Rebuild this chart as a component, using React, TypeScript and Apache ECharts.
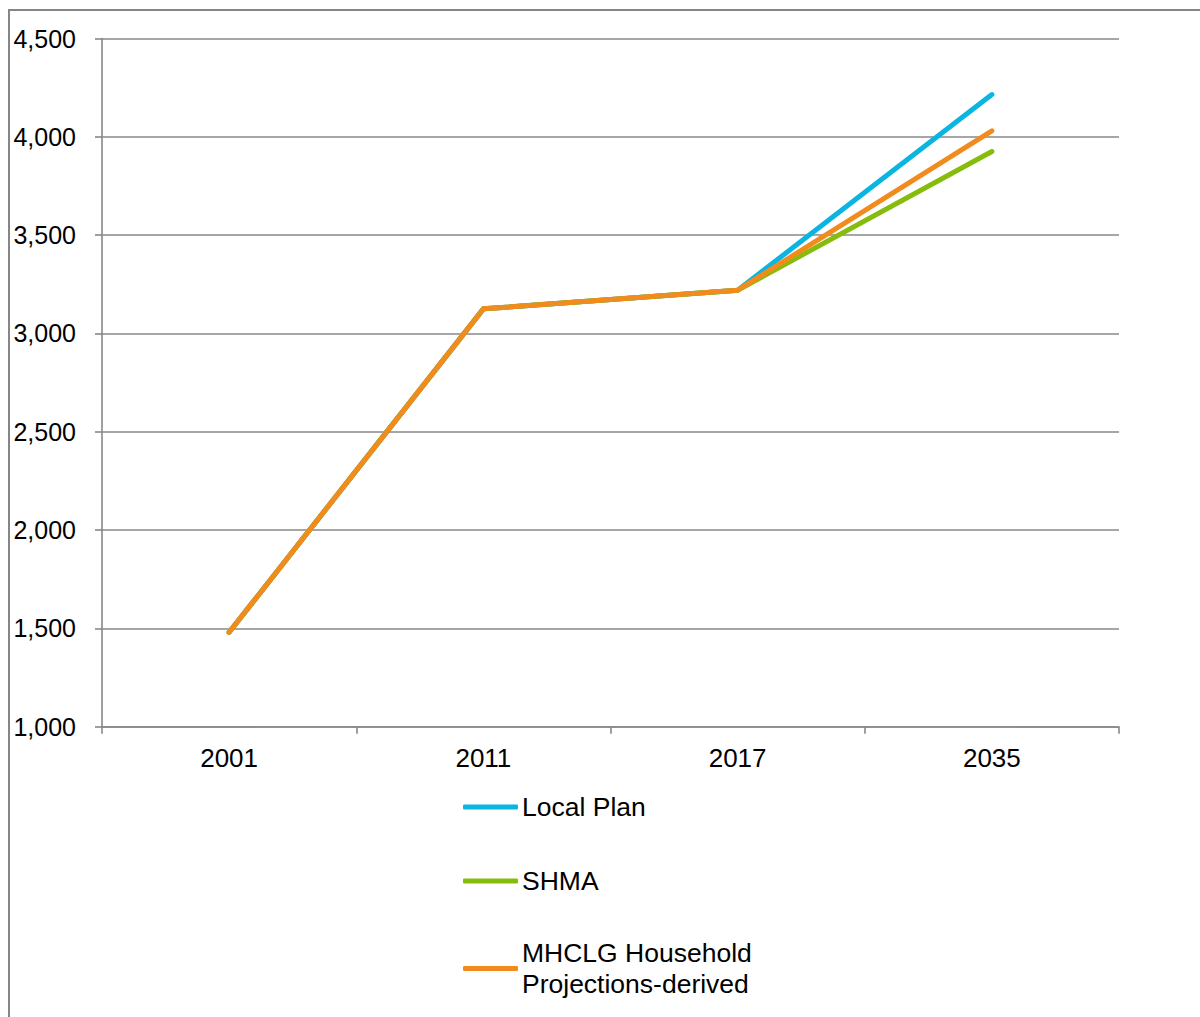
import React, { useEffect, useRef } from "react";
import * as echarts from "echarts";

// Household numbers by year under three growth scenarios
const years = ["2001", "2011", "2017", "2035"];
const localPlan = [1480, 3125, 3220, 4215];
const shma = [1480, 3125, 3220, 3925];
const mhclg = [1480, 3125, 3220, 4030];

const seriesNames = ["Local Plan", "SHMA", "MHCLG Household Projections-derived"];
const seriesColors = ["#0BB5E2", "#86BC0B", "#F28B1E"];

const FONT = "'Liberation Sans', Arial, Helvetica, sans-serif";
const GRID_GREY = "#888888";

export default function App() {
  const ref = useRef<HTMLDivElement>(null);

  useEffect(() => {
    if (!ref.current) return;
    const chart = echarts.init(ref.current, null, { renderer: "svg" });
    const values = [localPlan, shma, mhclg];

    chart.setOption({
      animation: false,
      backgroundColor: "#ffffff",
      textStyle: { fontFamily: FONT },
      grid: { left: 102, right: 81, top: 38.5, bottom: 290.3, containLabel: false },
      xAxis: {
        type: "category",
        data: years,
        boundaryGap: true,
        axisLine: { show: true, lineStyle: { color: GRID_GREY, width: 1.6 } },
        axisTick: { show: true, inside: false, length: 7, alignWithLabel: false, lineStyle: { color: GRID_GREY, width: 1.6 } },
        axisLabel: { color: "#000", fontSize: 26, fontFamily: FONT, margin: 18 },
        splitLine: { show: false },
      },
      yAxis: {
        type: "value",
        min: 1000,
        max: 4500,
        interval: 500,
        axisLine: { show: true, lineStyle: { color: GRID_GREY, width: 1.6 } },
        axisTick: { show: true, inside: false, length: 7, lineStyle: { color: GRID_GREY, width: 1.6 } },
        axisLabel: {
          color: "#000",
          fontSize: 25,
          fontFamily: FONT,
          margin: 26,
          formatter: (v: number) => v.toLocaleString("en-GB"),
        },
        splitLine: { show: true, lineStyle: { color: GRID_GREY, width: 1.6 } },
      },
      legend: {
        orient: "vertical",
        left: 463,
        top: 791.5,
        padding: 0,
        icon: "roundRect",
        itemWidth: 55,
        itemHeight: 5,
        itemGap: 43,
        textStyle: { color: "#000", fontSize: 26.5, lineHeight: 31, fontFamily: FONT, padding: [0, 0, 0, -1] },
        formatter: (name: string) =>
          name === seriesNames[2] ? "MHCLG Household\nProjections-derived" : name,
        data: [
          { name: seriesNames[0] },
          { name: seriesNames[1] },
          { name: seriesNames[2], textStyle: { padding: [0, 0, -31, -1] } },
        ],
      },
      series: seriesNames.map((name, i) => ({
        name,
        type: "line",
        data: values[i],
        symbol: "none",
        showSymbol: false,
        color: seriesColors[i],
        lineStyle: { color: seriesColors[i], width: 5, cap: "round", join: "round" },
        z: 2 + i,
      })),
      graphic: [
        {
          type: "rect",
          silent: true,
          shape: { x: 9, y: 10, width: 1400, height: 1200 },
          style: { fill: "none", stroke: "#868686", lineWidth: 2 },
        },
      ],
    });

    return () => chart.dispose();
  }, []);

  return (
    <div
      ref={ref}
      style={{ position: "fixed", left: 0, top: 0, width: 1200, height: 1017 }}
    />
  );
}
